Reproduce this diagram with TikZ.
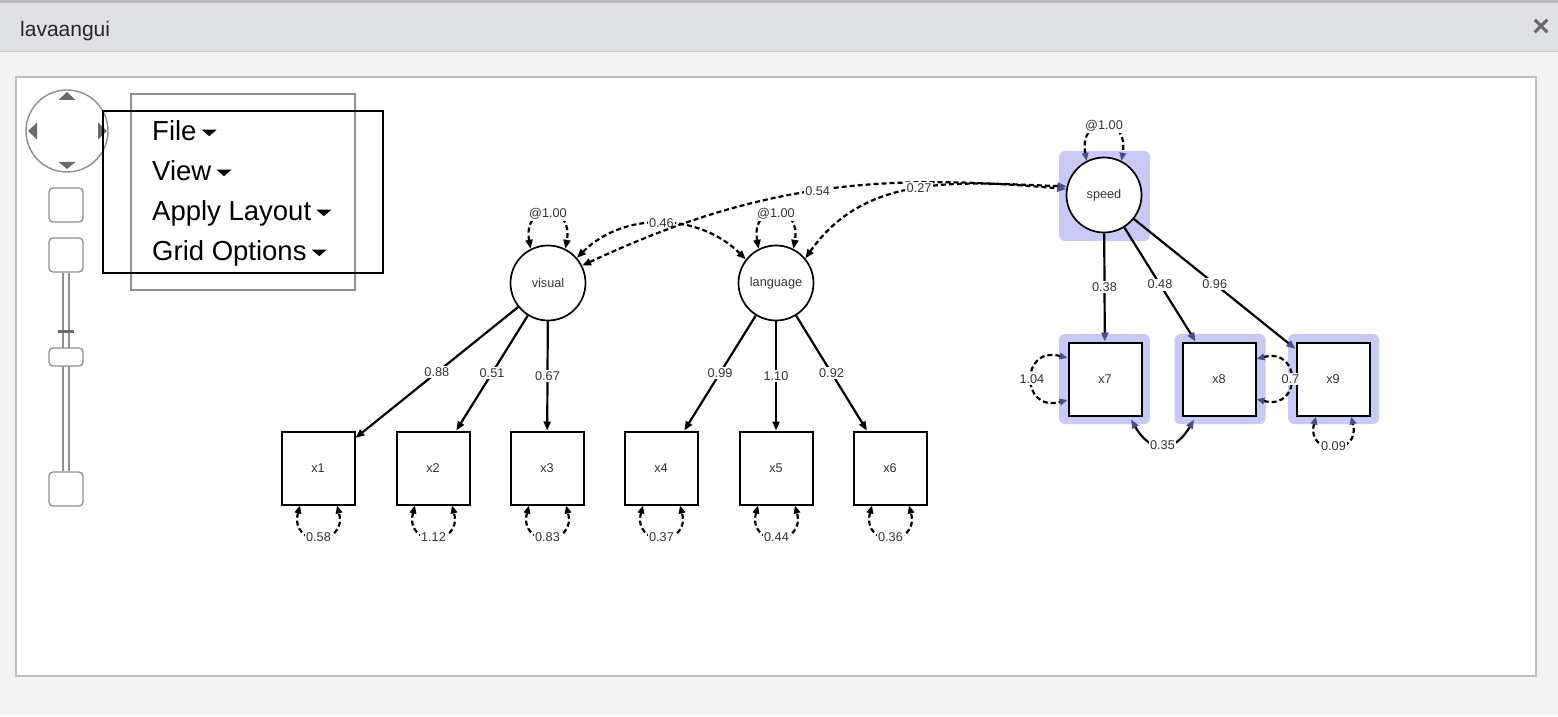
\documentclass[tikz,border=0pt]{standalone}
\usepackage{fontspec}
\setmainfont{Liberation Sans}
\usetikzlibrary{arrows.meta}
\definecolor{ink}{HTML}{333333}
\definecolor{barA}{HTML}{DFE1E5}
\definecolor{barB}{HTML}{CFD1D5}
\definecolor{paneA}{HTML}{F3F3F3}
\definecolor{edgeB}{HTML}{BEBEBE}
\definecolor{ctrlB}{HTML}{8E8E8E}
\definecolor{ctrlC}{HTML}{6A6A6A}
\definecolor{hiliteA}{HTML}{C9C9F6}
\definecolor{hiliteB}{HTML}{4B4B8E}
\tikzset{
  bartext/.style={font=\fontsize{21}{24}\selectfont, text=black!85, inner sep=0pt},
  closetext/.style={font=\bfseries\fontsize{30}{32}\selectfont, text=ctrlC, inner sep=0pt},
  ctrlbtn/.style={rectangle, rounded corners=4pt, draw=ctrlB, line width=1.3pt, fill=white, minimum width=34pt, minimum height=34pt},
  menutext/.style={font=\fontsize{27.5}{30}\selectfont, text=black, inner sep=0pt},
  latent/.style={circle, draw=black, line width=1.7pt, fill=white, minimum size=75pt, inner sep=0pt, font=\fontsize{12.7}{14}\selectfont, text=ink},
  manifest/.style={rectangle, draw=black, line width=2pt, fill=white, minimum size=73pt, inner sep=0pt, font=\fontsize{12.7}{14}\selectfont, text=ink},
  hilite/.style={rectangle, rounded corners=6pt, fill=hiliteA, minimum width=91pt, minimum height=90pt},
  coef/.style={fill=white, inner sep=1.5pt, font=\fontsize{12.7}{14}\selectfont, text=ink},
  loading/.style={line width=2.2pt, -{Triangle[length=9pt,width=7pt]}},
  loadingH/.style={line width=2.2pt, -{Triangle[length=9pt,width=7pt,color=hiliteB]}},
  covar/.style={line width=2.2pt, dash pattern=on 5pt off 3pt, {Triangle[length=9pt,width=7pt]}-{Triangle[length=9pt,width=7pt]}},
  covarH/.style={line width=2.2pt, dash pattern=on 5pt off 3pt, {Triangle[length=9pt,width=7pt]}-{Triangle[length=9pt,width=7pt,color=hiliteB]}},
  resid/.style={line width=2.2pt, dash pattern=on 5pt off 3pt, {Triangle[length=8pt,width=6.5pt]}-{Triangle[length=8pt,width=6.5pt]}},
  residH/.style={line width=2.2pt, dash pattern=on 5pt off 3pt, {Triangle[length=8pt,width=6.5pt,color=hiliteB]}-{Triangle[length=8pt,width=6.5pt,color=hiliteB]}}
}

\begin{document}
\begin{tikzpicture}[x=1pt,y=1pt]
\useasboundingbox (0,0) rectangle (1558,716);

% window frame
\fill[barA] (0,664) rectangle (1558,716);
\fill[gray!55] (0,713) rectangle (1558,716);
\fill[paneA] (0,0) rectangle (1558,664);
\draw[barB, line width=1pt] (0,664) -- (1558,664);
\draw[edgeB, line width=2pt, fill=white] (16,40) rectangle (1536,639);

\node[bartext, anchor=base west] (wtitle) at (20,679.5) {lavaangui};
\node[closetext] (wclose) at (1541,688) {×};

% pan and zoom controls
\node[circle, draw=ctrlB, line width=1.4pt, fill=white, minimum size=82pt] (nav) at (67,585) {};
\fill[ctrlC] ([shift={(-8.5,31)}]nav.center) -- ++(17,0) -- ++(-8.5,8) -- cycle;
\fill[ctrlC] ([shift={(-8.5,-31)}]nav.center) -- ++(17,0) -- ++(-8.5,-7) -- cycle;
\fill[ctrlC] ([shift={(-30,8.5)}]nav.center) -- ++(0,-17) -- ++(-9,8.5) -- cycle;
\fill[ctrlC] ([shift={(31,8.5)}]nav.center) -- ++(0,-17) -- ++(9,8.5) -- cycle;

\node[ctrlbtn] (zoomin) at (66,511) {};
\node[ctrlbtn] (zoomout) at (66,461) {};
\node[ctrlbtn] (zoomfit) at (66,227) {};
\draw[ctrlB, line width=1.3pt] ([xshift=-3pt]zoomout.south) -- ([xshift=-3pt]zoomfit.north);
\draw[ctrlB, line width=1.3pt] ([xshift=3pt]zoomout.south) -- ([xshift=3pt]zoomfit.north);
\draw[ctrlC, line width=3pt] (58,384) -- (74,384);
\node[ctrlbtn, minimum height=18pt] (knob) at (66,359) {};

% menu
\draw[ctrlB, line width=1.4pt] (131,426) rectangle (355,622);
\draw[black, line width=2pt] (103,443) rectangle (383,605);
\node[menutext, anchor=base west] (mfile) at (152,575.3) {File};
\node[menutext, anchor=base west] (mview) at (152,535.3) {View};
\node[menutext, anchor=base west] (mlayout) at (152,495.3) {Apply Layout};
\node[menutext, anchor=base west] (mgrid) at (152,455.3) {Grid Options};
\fill ([shift={(5,11)}]mfile.base east) -- ++(15,0) -- ++(-7.5,-6.5) -- cycle;
\fill ([shift={(5,11)}]mview.base east) -- ++(15,0) -- ++(-7.5,-6.5) -- cycle;
\fill ([shift={(5,11)}]mlayout.base east) -- ++(15,0) -- ++(-7.5,-6.5) -- cycle;
\fill ([shift={(5,11)}]mgrid.base east) -- ++(15,0) -- ++(-7.5,-6.5) -- cycle;

% selection highlights
\node[hilite] (hlspeed) at (1104.5,520) {};
\node[hilite] (hl7) at (1104.5,337) {};
\node[hilite] (hl8) at (1220,337) {};
\node[hilite] (hl9) at (1333.5,337) {};

% latent variables
\node[latent] (visual) at (548,433) {visual};
\node[latent] (language) at (776,433) {language};
\node[latent] (speed) at (1104,521) {speed};

% indicators
\node[manifest] (x1) at (318,248) {x1};
\node[manifest] (x2) at (433,248) {x2};
\node[manifest] (x3) at (547,248) {x3};
\node[manifest] (x4) at (661,248) {x4};
\node[manifest] (x5) at (776,248) {x5};
\node[manifest] (x6) at (890,248) {x6};
\node[manifest] (x7) at (1105,337) {x7};
\node[manifest] (x8) at (1219,337) {x8};
\node[manifest] (x9) at (1333,337) {x9};

% loadings
\draw[loading] (visual) -- node[coef] {0.88} (x1);
\draw[loading] (visual) -- node[coef] {0.51} (x2);
\draw[loading] (visual) -- node[coef] {0.67} (x3);
\draw[loading] (language) -- node[coef] {0.99} (x4);
\draw[loading] (language) -- node[coef] {1.10} (x5);
\draw[loading] (language) -- node[coef] {0.92} (x6);
\draw[loadingH] (speed) -- node[coef] {0.38} (x7);
\draw[loadingH] (speed) -- node[coef] {0.48} (x8);
\draw[loadingH] (speed) -- node[coef] {0.96} (x9);

% latent covariances
\draw[covar] (visual.41) to[out=45,in=135] node[coef] {0.46} (language.142);
\draw[covarH] (visual.27) to[out=25,in=175] node[coef] {0.54} (speed.171);
\draw[covarH] (language.40) to[out=55,in=178] node[coef, pos=0.5] {0.27} (speed.167);

% latent variances
\draw[covar] (visual.117) to[out=100,in=80,looseness=3.5] node[coef] {@1.00} (visual.63);
\draw[covar] (language.117) to[out=100,in=80,looseness=3.5] node[coef] {@1.00} (language.63);
\draw[residH] (speed.117) to[out=100,in=80,looseness=3.5] node[coef] {@1.00} (speed.63);

% residual variances
\draw[resid] ([xshift=-18pt]x1.south) to[out=-105,in=-75,looseness=3] node[coef] {0.58} ([xshift=19pt]x1.south);
\draw[resid] ([xshift=-18pt]x2.south) to[out=-105,in=-75,looseness=3] node[coef] {1.12} ([xshift=19pt]x2.south);
\draw[resid] ([xshift=-18pt]x3.south) to[out=-105,in=-75,looseness=3] node[coef] {0.83} ([xshift=19pt]x3.south);
\draw[resid] ([xshift=-18pt]x4.south) to[out=-105,in=-75,looseness=3] node[coef] {0.37} ([xshift=19pt]x4.south);
\draw[resid] ([xshift=-18pt]x5.south) to[out=-105,in=-75,looseness=3] node[coef] {0.44} ([xshift=19pt]x5.south);
\draw[resid] ([xshift=-18pt]x6.south) to[out=-105,in=-75,looseness=3] node[coef] {0.36} ([xshift=19pt]x6.south);
\draw[residH] ([yshift=21pt]x7.west) to[out=165,in=195,looseness=3] node[coef] {1.04} ([yshift=-21pt]x7.west);
\draw[residH] ([yshift=20pt]x8.east) to[out=15,in=-15,looseness=3] node[coef] {0.7} ([yshift=-20pt]x8.east);
\draw[residH] ([xshift=-17pt]x9.south) to[out=-105,in=-75,looseness=3] node[coef] {0.09} ([xshift=18pt]x9.south);

% residual covariance
\draw[line width=2.2pt, {Triangle[length=9pt,width=7pt,color=hiliteB]}-{Triangle[length=9pt,width=7pt,color=hiliteB]}] ([xshift=26pt,yshift=-3pt]x7.south) to[out=-60,in=-120,looseness=1.6] node[coef] {0.35} ([xshift=-25pt,yshift=-3pt]x8.south);

\end{tikzpicture}
\end{document}
